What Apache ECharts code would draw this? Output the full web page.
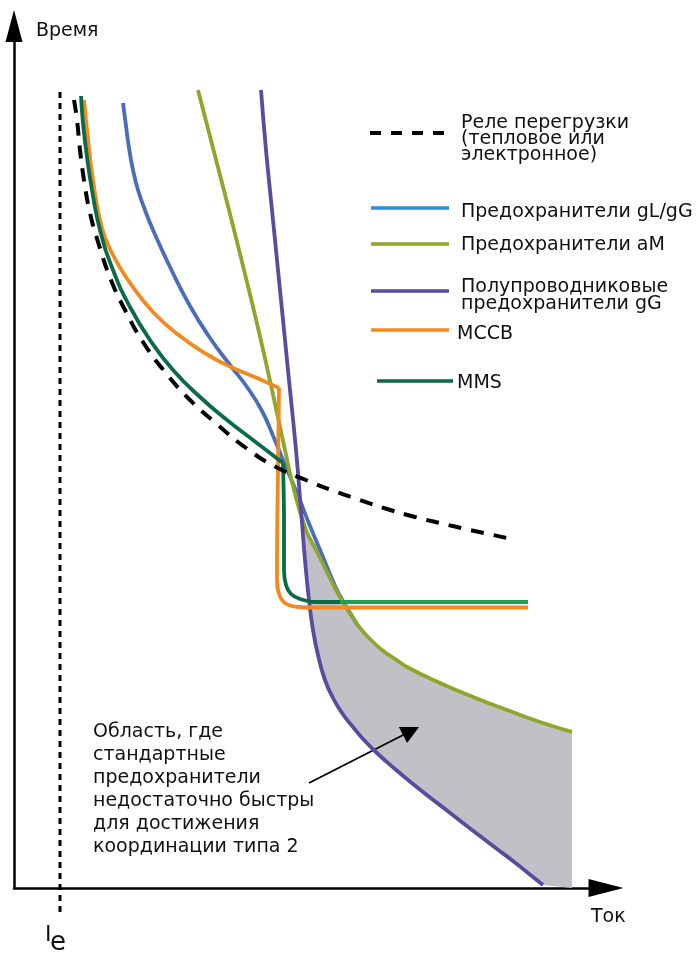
<!DOCTYPE html>
<html lang="ru" style="height: 100%">
<head>
  <meta charset="utf-8">
</head>
<body style="height: 100%; margin: 0; background: #fff">
  <div id="container" style="width: 699px; height: 954px"></div>

  <script type="text/javascript" src="https://cdn.jsdelivr.net/npm/echarts@6.0.0/dist/echarts.min.js"></script>

  <script type="text/javascript">
    // [ток, время] – schematic units
    var relayCurve = [
      [74, 788], [77, 768], [80, 738], [84, 708], [90, 675], [99, 643], [111, 608],
      [125, 578], [143, 546], [165, 516], [190, 488], [218, 463], [246, 440], [276, 421],
      [306, 408], [331, 398], [360, 388], [387, 379], [415, 371], [444, 364], [470, 358], [507, 350]
    ];
    var mmsCurve = [
      [81, 792], [83, 765], [87, 731], [92, 698], [100, 658], [113, 618], [130, 581],
      [150, 548], [173, 518], [200, 491], [227, 468], [253, 448], [283, 425]
    ];
    var mmsTrip = [[283, 425], [284, 368], [284, 318], [286, 303], [291, 294], [300, 289], [315, 286], [340, 286]];
    var mmsInst = [[340, 286], [528, 286]];
    var mccbCurve = [
      [84, 788], [87, 758], [93, 708], [102, 660], [113, 633], [128, 608], [153, 576],
      [180, 552], [208, 533], [233, 520], [257, 510], [279, 500]
    ];
    var mccbTrip = [[279, 500], [278, 418], [277, 328], [277, 308], [279, 294], [285, 285], [298, 281], [320, 280.5], [528, 280.5]];
    var fuseGGCurve = [
      [123, 785], [126, 762], [129, 740], [133, 718], [138, 698], [145, 678], [153, 658],
      [170, 621], [190, 582], [210, 550], [230, 523], [247, 501], [262, 477], [274, 450],
      [283, 428], [297, 395], [310, 362], [323, 331], [336, 300], [346, 282], [358, 262]
    ];
    var fuseAMCurve = [
      [198, 798], [213.5, 738], [229, 678], [244, 618], [258.5, 558], [272, 498], [285, 438],
      [294, 398], [306, 358], [315, 340], [325, 320], [335, 300], [344, 284], [352, 272],
      [360, 260], [370, 249], [382, 238], [395, 229], [407, 221], [440, 205], [473, 191],
      [507, 178], [540, 166], [572, 156]
    ];
    var semiFuseCurve = [
      [261, 798], [266, 738], [272, 678], [278, 618], [284, 558], [290, 498], [296, 438],
      [301, 378], [305, 328], [309, 288], [313, 258], [318, 233], [325, 208], [333, 190],
      [342, 175], [353, 161], [364, 148], [378, 134], [395, 119], [413, 104], [430, 90.5],
      [447, 77.5], [463, 65], [480, 52], [497, 39], [513, 27], [528, 15], [543, 3]
    ];
    var gapCorner = [572, 0];
    var calloutArrow = [[309, 105], [411, 157]];

    var gapPolygon = fuseAMCurve.filter(function (p) { return p[1] < 378; })
      .concat([gapCorner])
      .concat(semiFuseCurve.filter(function (p) { return p[1] <= 378; }).reverse());

    var FONT = '"DejaVu Sans", sans-serif';
    var INK = '#111';

    var dom = document.getElementById('container');
    var myChart = echarts.init(dom, null, { renderer: 'canvas' });

    function curve(name, data, color, extra) {
      var s = {
        name: name,
        type: 'line',
        data: data,
        smooth: 0.5,
        symbol: 'none',
        silent: true,
        lineStyle: { color: color, width: 3.8 }
      };
      return Object.assign(s, extra || {});
    }

    function label(x, y, text, size, lh) {
      return {
        type: 'text', x: x, y: y, silent: true,
        style: {
          text: text, fill: INK, font: (size || 19) + 'px ' + FONT,
          verticalAlign: 'middle', lineHeight: lh || 20
        }
      };
    }

    function swatch(x1, x2, y, color, dash) {
      return {
        type: 'line', silent: true,
        shape: { x1: x1, y1: y, x2: x2, y2: y },
        style: { stroke: color, lineWidth: dash ? 4 : 3.5, lineDash: dash || null }
      };
    }

    var option = {
      animation: false,
      grid: { left: 14, right: 93, top: 26, bottom: 66, containLabel: false },
      xAxis: {
        type: 'value', min: 14, max: 606,
        axisLine: { show: true, onZero: false, symbol: ['none', 'triangle'], symbolSize: [18, 35],
          lineStyle: { color: '#000', width: 2.5 } },
        axisTick: { show: false }, axisLabel: { show: false }, splitLine: { show: false }
      },
      yAxis: {
        type: 'value', min: 0, max: 862,
        axisLine: { show: true, onZero: false, symbol: ['none', 'triangle'], symbolSize: [17, 32],
          lineStyle: { color: '#000', width: 2.5 } },
        axisTick: { show: false }, axisLabel: { show: false }, splitLine: { show: false }
      },
      series: [
        {
          type: 'custom',
          silent: true,
          data: [[0, 0]],
          renderItem: function (params, api) {
            return {
              type: 'polygon',
              shape: { points: gapPolygon.map(function (p) { return api.coord(p); }) },
              style: { fill: '#c1c0c7' }
            };
          }
        },
        curve('Предохранители gL/gG', fuseGGCurve, '#4a6dba'),
        curve('Предохранители aM', fuseAMCurve, '#8da62c'),
        curve('Полупроводниковые предохранители gG', semiFuseCurve, '#5a4b9e'),
        curve('MCCB', mccbCurve, '#f28a1f'),
        curve('MCCB', mccbTrip, '#f28a1f', { smooth: 0.3 }),
        curve('MMS', mmsCurve, '#0b6b47'),
        curve('MMS', mmsTrip, '#0b6b47', { smooth: 0.3 }),
        curve('MMS', mmsInst, '#1e9e4e', { smooth: false }),
        curve('Реле перегрузки', relayCurve, '#000', {
          lineStyle: { color: '#000', width: 4, type: [13, 10] }
        }),
        {
          type: 'lines',
          coordinateSystem: 'cartesian2d',
          silent: true,
          symbol: ['none', 'triangle'],
          symbolSize: [14, 18],
          lineStyle: { color: '#000', width: 1.8, opacity: 1 },
          data: [{ coords: calloutArrow }]
        }
      ],
      graphic: [
        label(36, 31, 'Время'),
        label(591, 917, 'Ток'),
        label(45, 935, 'I', 22),
        label(50, 943, 'e', 26),
        {
          type: 'line', silent: true,
          shape: { x1: 60, y1: 92, x2: 60, y2: 916 },
          style: { stroke: '#000', lineWidth: 3, lineDash: [6, 5] }
        },
        swatch(370, 448, 133, '#000', [11, 10]),
        label(461, 139, 'Реле перегрузки\n(тепловое или\nэлектронное)', 19, 16),
        swatch(371, 449, 208, '#2a8fd0'),
        label(461, 212, 'Предохранители gL/gG'),
        swatch(371, 449, 244, '#8da62c'),
        label(461, 245, 'Предохранители aM'),
        swatch(371, 449, 291, '#5a4b9e'),
        label(461, 295.5, 'Полупроводниковые\nпредохранители gG', 19, 17),
        swatch(371, 449, 330, '#f28a1f'),
        label(457, 334, 'MCCB'),
        swatch(377, 453, 381, '#0b6b47'),
        label(457, 383, 'MMS'),
        label(93, 789.5, 'Область, где\nстандартные\nпредохранители\nнедостаточно быстры\nдля достижения\nкоординации типа 2', 19, 23)
      ]
    };

    myChart.setOption(option);
    window.addEventListener('resize', myChart.resize);
  </script>
</body>
</html>
